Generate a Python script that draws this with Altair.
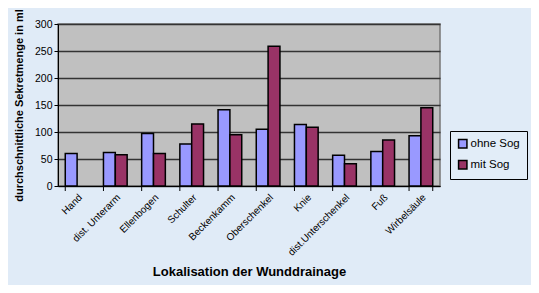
import altair as alt
import pandas as pd

categories = ["Hand", "dist. Unterarm", "Ellenbogen", "Schulter", "Beckenkamm",
              "Oberschenkel", "Knie", "dist.Unterschenkel", "Fuß", "Wirbelsäule"]
ohne_sog = [60, 62, 97, 78, 141, 105, 114, 57, 64, 93]
mit_sog = [None, 58, 60, 115, 95, 259, 109, 41, 85, 145]
series = ["ohne Sog", "mit Sog"]
colors = ["#9999ff", "#993366"]

rows = []
for c, a, b in zip(categories, ohne_sog, mit_sog):
    rows.append({"Ort": c, "Serie": series[0], "Wert": a})
    if b is not None:
        rows.append({"Ort": c, "Serie": series[1], "Wert": b})
df = pd.DataFrame(rows)
cat_df = pd.DataFrame({"Ort": categories})

W, H = 382, 162
font = "Liberation Sans"

xscale = alt.Scale(domain=categories, paddingInner=0.38, paddingOuter=0.19)

bars = alt.Chart(df).mark_bar(stroke="black", strokeWidth=1.5).encode(
    x=alt.X("Ort:N", sort=categories, scale=xscale,
            axis=alt.Axis(title="Lokalisation der Wunddrainage", labelAngle=-45,
                          ticks=False, labelFontSize=10, labelPadding=6,
                          titleFontSize=13, titleFontWeight="bold", titlePadding=8,
                          domainColor="black", labelColor="black", titleColor="black")),
    xOffset=alt.XOffset("Serie:N", sort=series, scale=alt.Scale(domain=series)),
    y=alt.Y("Wert:Q", scale=alt.Scale(domain=[0, 300]),
            axis=alt.Axis(title="durchschnittliche Sekretmenge in ml", values=[0, 50, 100, 150, 200, 250, 300],
                          gridColor="#333333", gridWidth=1.3, tickColor="black", tickSize=4,
                          domainColor="black", labelFontSize=10.5, labelColor="black",
                          titleFontSize=11, titleFontWeight="bold", titleColor="black",
                          titlePadding=10)),
    color=alt.Color("Serie:N", sort=series, scale=alt.Scale(domain=series, range=colors),
                    legend=alt.Legend(title=None, orient="none", legendX=392, legendY=107,
                                      symbolType="square", symbolSize=70, symbolStrokeColor="black",
                                      symbolStrokeWidth=1.5, labelFontSize=11.5, labelColor="black",
                                      strokeColor="black", fillColor="#e2edf8", padding=7,
                                      rowPadding=6, labelOffset=2)),
)

ticks = alt.Chart(cat_df).mark_rule(color="black", strokeWidth=1).encode(
    x=alt.X("Ort:N", sort=categories, scale=xscale, bandPosition=0),
    y=alt.value(H), y2=alt.value(H + 5),
)
end_tick = alt.Chart(pd.DataFrame({"Ort": [categories[-1]]})).mark_rule(color="black").encode(
    x=alt.X("Ort:N", sort=categories, scale=xscale, bandPosition=1),
    y=alt.value(H), y2=alt.value(H + 5),
)

chart = alt.layer(bars, ticks, end_tick).properties(
    width=W, height=H,
    padding={"left": 50, "top": 16, "right": 91, "bottom": 99},
    autosize=alt.AutoSizeParams(type="none"),
    background="#e0ebf7",
).configure_view(
    fill="#c0c0c0", stroke="#777777", strokeWidth=1.5
).configure_axis(labelFont=font, titleFont=font).configure_legend(labelFont=font)

chart.save("out.html", embed_options={"renderer": "svg", "actions": False})
